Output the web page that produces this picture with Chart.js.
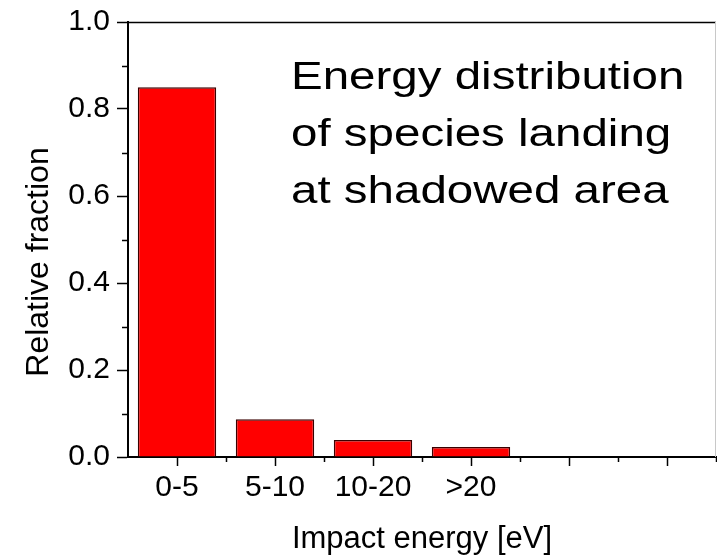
<!DOCTYPE html>
<html>
<head>
<meta charset="utf-8">
<script src="https://cdn.jsdelivr.net/npm/chart.js@4.4.1/dist/chart.umd.min.js"></script>
<style>
  html, body { margin: 0; padding: 0; background: #fff; }
  #wrap { width: 717px; height: 558px; position: relative; }
</style>
</head>
<body>
<div id="wrap"><canvas id="chart"></canvas></div>
<script>
const categories = ["0-5", "5-10", "10-20", ">20", "", ""];
const fractions = [0.85, 0.087, 0.039, 0.023, null, null];
const yMajorTicks = [0.0, 0.2, 0.4, 0.6, 0.8, 1.0];
const yMinorTicks = [0.1, 0.3, 0.5, 0.7, 0.9];
const noteLines = ["Energy distribution", "of species landing", "at shadowed area"];
const yTitle = "Relative fraction";

const FONT = "'Liberation Sans', Arial, Helvetica, sans-serif";

// minor ticks, frame, y title and the text note
const extras = {
  id: "extras",
  afterDraw(chart) {
    const { ctx, chartArea: a, scales } = chart;
    const x = scales.x, y = scales.y;
    ctx.save();
    ctx.strokeStyle = "#000";
    ctx.lineWidth = 1.5;
    ctx.beginPath();
    yMinorTicks.forEach((v) => {
      const py = Math.round(y.getPixelForValue(v)) + 0.5;
      ctx.moveTo(a.left - 6, py);
      ctx.lineTo(a.left, py);
    });
    for (let i = 1; i <= categories.length; i++) {
      const px = Math.round(x.getPixelForValue(i - 0.5)) + 0.5;
      ctx.moveTo(px, a.bottom);
      ctx.lineTo(px, a.bottom + 5);
    }
    ctx.stroke();

    // top line
    ctx.beginPath();
    ctx.moveTo(a.left, a.top + 0.5);
    ctx.lineTo(a.right, a.top + 0.5);
    ctx.stroke();
    // right line
    ctx.strokeStyle = "#c8c8c8";
    ctx.lineWidth = 1;
    ctx.beginPath();
    ctx.moveTo(a.right - 0.5, a.top);
    ctx.lineTo(a.right - 0.5, a.bottom);
    ctx.stroke();

    ctx.fillStyle = "#000";

    // y axis title
    ctx.save();
    ctx.font = "32px " + FONT;
    ctx.textAlign = "center";
    ctx.textBaseline = "alphabetic";
    ctx.translate(48, 262);
    ctx.rotate(-Math.PI / 2);
    ctx.fillText(yTitle, 0, 0);
    ctx.restore();

    // note text, a bit wider than the font
    ctx.font = "38px " + FONT;
    ctx.textAlign = "left";
    ctx.textBaseline = "alphabetic";
    const baselines = [89, 146, 203];
    noteLines.forEach((t, i) => {
      ctx.save();
      ctx.translate(291, baselines[i]);
      ctx.scale(1.25, 1);
      ctx.fillText(t, 0, 0);
      ctx.restore();
    });
    ctx.restore();
  },
};

new Chart(document.getElementById("chart"), {
  type: "bar",
  data: {
    labels: categories,
    datasets: [{
      data: fractions,
      backgroundColor: "#ff0000",
      borderColor: "#3a0000",
      borderWidth: 1.5,
      barPercentage: 0.8,
      categoryPercentage: 1.0,
    }],
  },
  options: {
    responsive: true,
    maintainAspectRatio: false,
    animation: false,
    layout: { padding: { top: 22, right: 1, left: 0, bottom: 0 } },
    plugins: { legend: { display: false }, tooltip: { enabled: false } },
    scales: {
      x: {
        offset: true,
        grid: {
          offset: false,
          drawOnChartArea: false,
          drawTicks: true,
          tickLength: 9,
          tickWidth: 1.5,
          tickColor: "#000",
        },
        border: { color: "#000", width: 2 },
        ticks: {
          color: "#000",
          font: { family: FONT, size: 30 },
          padding: 4,
          maxRotation: 0,
          autoSkip: false,
        },
        title: {
          display: true,
          text: "Impact energy [eV]",
          color: "#000",
          font: { family: FONT, size: 31 },
          padding: { top: 14, bottom: 0 },
        },
        afterFit(s) { s.height = 101; s.paddingLeft = 0; s.paddingRight = 0; },
      },
      y: {
        min: 0,
        max: 1,
        afterBuildTicks(s) { s.ticks = yMajorTicks.map((v) => ({ value: v })); },
        grid: {
          drawOnChartArea: false,
          drawTicks: true,
          tickLength: 11,
          tickWidth: 1.5,
          tickColor: "#000",
        },
        border: { color: "#000", width: 2 },
        ticks: {
          color: "#000",
          font: { family: FONT, size: 30 },
          padding: 7,
          callback: (v) => Number(v).toFixed(1),
        },
        title: { display: false },
        afterFit(s) { s.width = 128; s.paddingTop = 0; s.paddingBottom = 0; },
      },
    },
  },
  plugins: [extras],
});
</script>
</body>
</html>
